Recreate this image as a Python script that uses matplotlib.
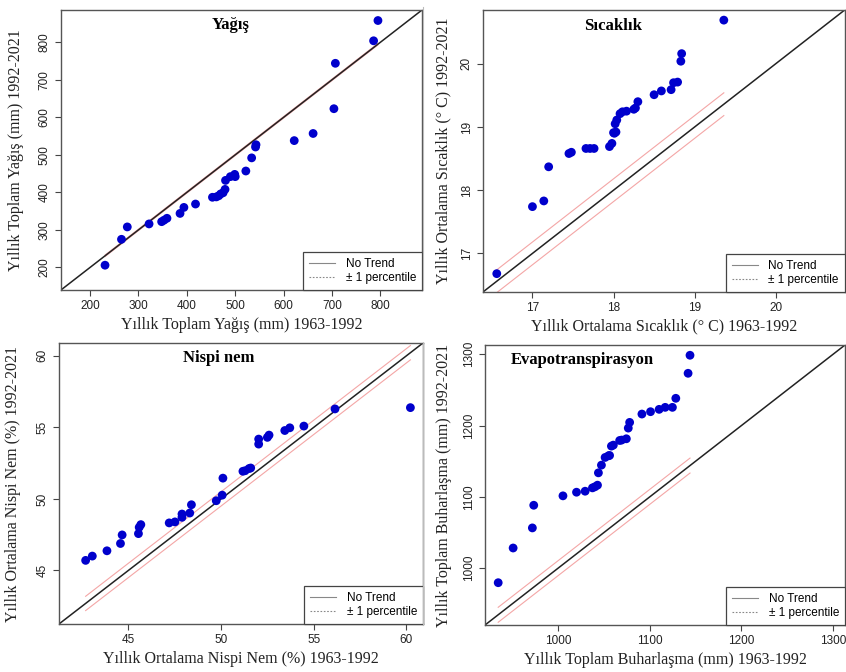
import matplotlib
matplotlib.use("Agg")
import matplotlib.pyplot as plt
from matplotlib.lines import Line2D
import numpy as np

# ---------------- data ----------------
yagis_x = [231, 265, 277, 322, 348, 353, 359, 386, 394, 418, 453, 461, 466, 470, 475,
           479, 480, 490, 499, 500, 522, 534, 542, 543, 622, 661, 704, 707, 786, 795]
yagis_y = [206, 275, 308, 316, 322, 326, 331, 344, 360, 369, 387, 388, 391, 396, 399,
           408, 432, 442, 448, 442, 457, 492, 521, 527, 538, 557, 623, 744, 804, 858]

sic_x = [16.56, 17.00, 17.14, 17.20, 17.45, 17.48, 17.66, 17.71, 17.76, 17.95, 17.98,
         18.00, 18.03, 18.02, 18.04, 18.08, 18.11, 18.16, 18.25, 18.27, 18.30, 18.50,
         18.59, 18.71, 18.74, 18.79, 18.83, 18.84, 19.36, 18.01]
sic_y = [16.68, 17.74, 17.83, 18.37, 18.58, 18.60, 18.66, 18.66, 18.66, 18.69, 18.74,
         18.91, 18.92, 19.05, 19.11, 19.21, 19.24, 19.25, 19.28, 19.30, 19.40, 19.51,
         19.57, 19.59, 19.70, 19.71, 20.04, 20.16, 20.69, 18.90]

nem_x = [42.69, 43.05, 43.84, 44.57, 44.66, 45.54, 45.58, 45.67, 47.20, 47.51, 47.89,
         47.89, 48.31, 48.40, 49.74, 50.06, 50.10, 51.18, 51.30, 51.51, 51.60, 52.03,
         52.03, 52.50, 52.59, 53.44, 53.71, 54.47, 56.15, 60.22]
nem_y = [45.70, 46.00, 46.37, 46.88, 47.48, 47.57, 48.01, 48.20, 48.32, 48.39, 48.71,
         48.94, 49.01, 49.59, 49.87, 50.26, 51.45, 51.93, 51.97, 52.12, 52.16, 53.83,
         54.18, 54.30, 54.46, 54.78, 54.97, 55.09, 56.29, 56.38]

evp_x = [934.4, 950.7, 971.7, 973.2, 1005.1, 1019.9, 1029.3, 1037.3, 1040.0, 1042.8,
         1043.8, 1047.1, 1051.1, 1054.7, 1056.0, 1058.0, 1060.1, 1067.0, 1069.2, 1074.3,
         1076.4, 1077.9, 1091.3, 1100.7, 1110.1, 1116.7, 1124.6, 1128.3, 1141.7, 1143.8]
evp_y = [979.4, 1028.1, 1056.3, 1088.1, 1101.3, 1106.4, 1107.8, 1112.5, 1114.0, 1116.3,
         1133.6, 1144.4, 1155.2, 1157.5, 1158.0, 1171.1, 1172.5, 1179.0, 1179.6, 1181.4,
         1196.4, 1204.4, 1216.1, 1219.4, 1222.7, 1225.5, 1225.5, 1238.2, 1273.3, 1298.6]

panels = [
    dict(x=yagis_x, y=yagis_y, title="Yağış", tx=0.47, lim=(140, 886), band=2.0,
         ticks=[200, 300, 400, 500, 600, 700, 800], ylx=-0.103,
         xlabel="Yıllık Toplam Yağış (mm) 1963-1992",
         ylabel="Yıllık Toplam Yağış (mm) 1992-2021",
         pos=[0.0721, 0.5685, 0.4267, 0.4166]),
    dict(x=sic_x, y=sic_y, title="Sıcaklık", tx=0.36, lim=(16.39, 20.85), band=0.18,
         ticks=[17, 18, 19, 20], ylx=-0.086,
         xlabel="Yıllık Ortalama Sıcaklık (° C) 1963-1992",
         ylabel="Yıllık Ortalama Sıcaklık (° C) 1992-2021",
         pos=[0.5709, 0.5655, 0.4275, 0.4196]),
    dict(x=nem_x, y=nem_y, title="Nispi nem", tx=0.44, lim=(41.25, 60.9), band=0.5,
         ticks=[45, 50, 55, 60], ylx=-0.105,
         xlabel="Yıllık Ortalama Nispi Nem (%) 1963-1992",
         ylabel="Yıllık Ortalama Nispi Nem (%) 1992-2021",
         pos=[0.0697, 0.0714, 0.4303, 0.4182]),
    dict(x=evp_x, y=evp_y, title="Evapotranspirasyon", tx=0.27, lim=(920, 1313), band=10.5,
         ticks=[1000, 1100, 1200, 1300], ylx=-0.092,
         xlabel="Yıllık Toplam Buharlaşma (mm) 1963-1992",
         ylabel="Yıllık Toplam Buharlaşma (mm) 1992-2021",
         pos=[0.5733, 0.0699, 0.4255, 0.4167]),
]

serif = "Liberation Serif"
sans = "Liberation Sans"

fig = plt.figure(figsize=(8.46, 6.72), dpi=100)
fig.patch.set_facecolor("white")

for p in panels:
    ax = fig.add_axes(p["pos"])
    lo, hi = p["lim"]
    ax.set_xlim(lo, hi)
    ax.set_ylim(lo, hi)
    xs = np.array(p["x"])
    ys = np.array(p["y"])
    # diagonal (no trend)
    ax.plot([lo, hi], [lo, hi], color="#222222", lw=1.1, zorder=2)
    # +/- 1 percentile lines
    xr = np.array([xs.min(), xs.max()])
    ax.plot(xr, xr + p["band"], color="#f4a6a6", lw=0.8, zorder=1)
    ax.plot(xr, xr - p["band"], color="#f4a6a6", lw=0.8, zorder=1)
    ax.scatter(xs, ys, s=40, color="#0000cc", edgecolors="none", zorder=3)

    ax.set_xticks(p["ticks"])
    ax.set_yticks(p["ticks"])
    ax.tick_params(direction="out", length=4, width=0.8, color="#444444",
                   labelsize=8.5, labelcolor="#222222")
    for lbl in ax.get_xticklabels() + ax.get_yticklabels():
        lbl.set_fontfamily(sans)
    ax.tick_params(axis="y", labelrotation=90)
    for lbl in ax.get_yticklabels():
        lbl.set_va("center")
    for s in ax.spines.values():
        s.set_color("#555555")
        s.set_linewidth(1.0)

    ax.set_xlabel(p["xlabel"], family=serif, fontsize=11.5, color="#222222", labelpad=3)
    ax.set_ylabel(p["ylabel"], family=serif, fontsize=11.5, color="#222222")
    ax.yaxis.set_label_coords(p["ylx"], 0.5)
    ax.text(p["tx"], 0.945, p["title"], transform=ax.transAxes, family=serif,
            fontsize=12, fontweight="bold", ha="center", va="center")

    handles = [Line2D([0], [0], color="#888888", lw=0.8),
               Line2D([0], [0], color="#888888", lw=0.8, ls=(0, (1.5, 1.5)))]
    leg = ax.legend(handles, ["No Trend", "± 1 percentile"], loc="lower right",
                    borderaxespad=0, fancybox=False, framealpha=1, edgecolor="#444444",
                    prop=dict(family=sans, size=8.5), handlelength=2.2,
                    labelspacing=0.15, borderpad=0.5, handletextpad=0.9)
    leg.get_frame().set_linewidth(0.9)

# faint border lines between image halves
fig.add_artist(Line2D([0.5005, 0.5005], [0.57, 0.99], color="#bbbbbb", lw=0.8))
fig.add_artist(Line2D([0.5005, 0.5005], [0.07, 0.49], color="#bbbbbb", lw=0.8))

fig.savefig("out.png", dpi=100)
